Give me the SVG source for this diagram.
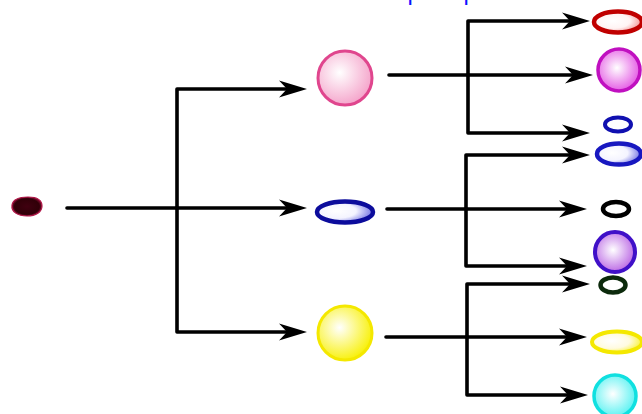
<svg xmlns="http://www.w3.org/2000/svg" width="642" height="414" viewBox="0 0 642 414">
<style>
.ln{fill:none;stroke:#000;stroke-width:3.6;stroke-linecap:round;stroke-linejoin:round}
.arr{marker-end:url(#ah)}
.frag{font-family:"Liberation Sans",Arial,sans-serif;font-size:24px;fill:#1010ff}
</style>
<defs>
<marker id="ah" markerUnits="userSpaceOnUse" markerWidth="32" markerHeight="20" viewBox="0 -10 32 20" refX="18" refY="0" orient="auto">
<path d="M0,-8.5 L28,0 L0,8.5 L8,0 Z" fill="#000"/>
</marker>
<radialGradient id="gPink" cx="40%" cy="40%" r="65%"><stop offset="0" stop-color="#fff"/><stop offset="1" stop-color="#f4a0c8"/></radialGradient>
<radialGradient id="gBlue" cx="35%" cy="45%" r="70%"><stop offset="0" stop-color="#fff"/><stop offset="0.5" stop-color="#f4f4ff"/><stop offset="1" stop-color="#6060e0"/></radialGradient>
<radialGradient id="gYel" cx="40%" cy="40%" r="65%"><stop offset="0" stop-color="#fff"/><stop offset="1" stop-color="#f8f000"/></radialGradient>
<radialGradient id="gRed" cx="40%" cy="45%" r="70%"><stop offset="0" stop-color="#fff"/><stop offset="0.5" stop-color="#fff4f4"/><stop offset="1" stop-color="#f07070"/></radialGradient>
<radialGradient id="gMag" cx="45%" cy="45%" r="65%"><stop offset="0" stop-color="#fff"/><stop offset="1" stop-color="#e040e0"/></radialGradient>
<radialGradient id="gPur" cx="45%" cy="45%" r="65%"><stop offset="0" stop-color="#fff"/><stop offset="1" stop-color="#b050e0"/></radialGradient>
<radialGradient id="gCyan" cx="45%" cy="45%" r="65%"><stop offset="0" stop-color="#fff"/><stop offset="1" stop-color="#40f0f0"/></radialGradient>
<radialGradient id="gYel2" cx="40%" cy="45%" r="70%"><stop offset="0" stop-color="#fff"/><stop offset="0.5" stop-color="#fffbe0"/><stop offset="1" stop-color="#f8f000"/></radialGradient>
<radialGradient id="gRoot" cx="50%" cy="50%" r="55%"><stop offset="0" stop-color="#400010"/><stop offset="0.75" stop-color="#300008"/><stop offset="1" stop-color="#a01040"/></radialGradient>
</defs>

<text class="frag" x="407.5" y="0">p</text>
<text class="frag" x="463.5" y="0">p</text>

<g id="connectors">
<path class="ln arr" d="M67,208 H297"/>
<path class="ln arr" d="M177,208 V89 H297"/>
<path class="ln arr" d="M177,208 V332 H297"/>

<path class="ln arr" d="M389,75 H583"/>
<path class="ln arr" d="M468,75 V21 H580"/>
<path class="ln arr" d="M468,75 V133 H580"/>

<path class="ln arr" d="M387,209 H577"/>
<path class="ln arr" d="M466,209 V155 H580"/>
<path class="ln arr" d="M466,209 V266 H577"/>

<path class="ln arr" d="M386,337 H577"/>
<path class="ln arr" d="M467,337 V284 H580"/>
<path class="ln arr" d="M467,337 V395 H578"/>
</g>

<g id="root"><path d="M12,205 C13,199 20,197 28,197 C37,197 42,200 42,206 C42,212 36,216 27,216 C18,216 11,212 12,205 Z" fill="url(#gRoot)" stroke="#b01848" stroke-width="1.2"/></g>

<g id="n-pink"><circle cx="345" cy="78" r="27" fill="url(#gPink)" stroke="#e0468e" stroke-width="3"/></g>
<g id="n-blue"><ellipse cx="345" cy="212" rx="28" ry="10.5" fill="url(#gBlue)" stroke="#0c0c9c" stroke-width="4.5"/></g>
<g id="n-yellow"><circle cx="345" cy="333" r="27" fill="url(#gYel)" stroke="#f4e800" stroke-width="3"/></g>

<g id="n-red"><ellipse cx="618" cy="22" rx="24" ry="10.5" fill="url(#gRed)" stroke="#c00000" stroke-width="4.5"/></g>
<g id="n-magenta"><circle cx="619" cy="70" r="21" fill="url(#gMag)" stroke="#c010c0" stroke-width="3.5"/></g>
<g id="n-smallblue"><ellipse cx="618" cy="124.5" rx="13" ry="7" fill="#fff" stroke="#1010b0" stroke-width="4"/></g>

<g id="n-blue2"><ellipse cx="619" cy="154" rx="22" ry="10.5" fill="url(#gBlue)" stroke="#1818c0" stroke-width="4.5"/></g>
<g id="n-black"><ellipse cx="616" cy="209" rx="13" ry="7" fill="#fff" stroke="#000" stroke-width="4.5"/></g>
<g id="n-purple"><circle cx="615" cy="252" r="20" fill="url(#gPur)" stroke="#4010c8" stroke-width="4"/></g>

<g id="n-green"><ellipse cx="613" cy="285" rx="12.5" ry="7.5" fill="#fff" stroke="#0c2a0c" stroke-width="4.5"/></g>
<g id="n-yellow2"><ellipse cx="617" cy="342" rx="25" ry="10.5" fill="url(#gYel2)" stroke="#f4e800" stroke-width="4"/></g>
<g id="n-cyan"><circle cx="615" cy="396" r="21" fill="url(#gCyan)" stroke="#10e0e0" stroke-width="3.5"/></g>
</svg>
